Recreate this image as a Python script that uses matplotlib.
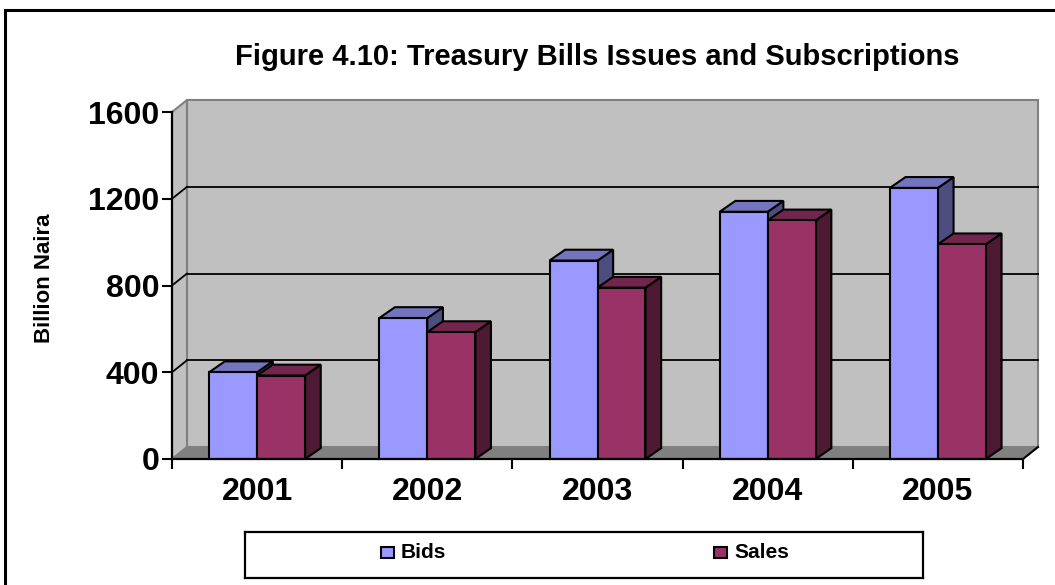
import matplotlib
matplotlib.use("Agg")
import matplotlib.pyplot as plt
from matplotlib.patches import Polygon, Rectangle

plt.rcParams['font.family'] = ['Liberation Sans', 'DejaVu Sans']

years = ['2001', '2002', '2003', '2004', '2005']
bids = [400, 650, 915, 1140, 1250]
sales = [385, 585, 790, 1100, 990]
yticks = [0, 400, 800, 1200, 1600]
series_names = ['Bids', 'Sales']

W, H = 1055, 585
fig = plt.figure(figsize=(W / 100, H / 100), dpi=100)
fig.patch.set_facecolor('white')

# outer frame
fig.add_artist(Rectangle((5 / W, -0.05), 1.2, 1 - 10 / H + 0.05, transform=fig.transFigure,
                         fill=False, edgecolor='black', lw=2.2))

ax = fig.add_axes([172 / W, 126 / H, 851 / W, 347 / H])
n = len(years)
ax.set_xlim(0, n)
ax.set_ylim(0, 1600)
ax.patch.set_visible(False)

# depth offsets (data units)
dxw, dyw = 0.088, 55
wall = '#C0C0C0'
floor = '#808080'
edge = '#808080'

# back wall
ax.add_patch(Polygon([(dxw, dyw), (n + dxw, dyw), (n + dxw, 1600 + dyw), (dxw, 1600 + dyw)],
                     closed=True, facecolor=wall, edgecolor=edge, lw=1.5, clip_on=False, zorder=1))
# side wall
ax.add_patch(Polygon([(0, 0), (dxw, dyw), (dxw, 1600 + dyw), (0, 1600)],
                     closed=True, facecolor=wall, edgecolor=edge, lw=1.5, clip_on=False, zorder=1))
# floor
ax.add_patch(Polygon([(0, 0), (n, 0), (n + dxw, dyw), (dxw, dyw)],
                     closed=True, facecolor=floor, edgecolor='none', lw=0, clip_on=False, zorder=1.5))
# gridlines
for v in yticks[1:-1]:
    ax.plot([dxw, n + dxw], [v + dyw, v + dyw], color='black', lw=1.3, clip_on=False, zorder=2)
    ax.plot([0, dxw], [v, v + dyw], color='black', lw=1.3, clip_on=False, zorder=2)
# right floor diagonal
ax.plot([n, n + dxw], [0, dyw], color='black', lw=1.5, clip_on=False, zorder=2)

# bars
bw = 0.282
dxb, dyb = 0.092, 50
cols = [('#9999FF', '#7575BF', '#4D4D80'), ('#993366', '#73264D', '#4D1933')]
z = 3
for i in range(n):
    c = i + 0.5
    for k, vals in enumerate([bids, sales]):
        x0 = c - bw + k * bw
        x1 = x0 + bw
        v = vals[i]
        front, top, side = cols[k]
        ax.add_patch(Polygon([(x1, 0), (x1 + dxb, dyb), (x1 + dxb, v + dyb), (x1, v)],
                             closed=True, facecolor=side, edgecolor='black', lw=1.5, clip_on=False, zorder=z))
        ax.add_patch(Polygon([(x0, v), (x1, v), (x1 + dxb, v + dyb), (x0 + dxb, v + dyb)],
                             closed=True, facecolor=top, edgecolor='black', lw=1.5, clip_on=False, zorder=z))
        ax.add_patch(Rectangle((x0, 0), bw, v, facecolor=front, edgecolor='black', lw=1.5,
                               clip_on=False, zorder=z))
        z += 1

for s in ['top', 'right']:
    ax.spines[s].set_visible(False)
for s in ['left', 'bottom']:
    ax.spines[s].set_color('black')
    ax.spines[s].set_linewidth(1.6)
    ax.spines[s].set_zorder(20)

ax.set_yticks(yticks)
ax.set_yticklabels([str(t) for t in yticks], fontsize=23, fontweight='bold')
ax.tick_params(axis='y', direction='out', length=7, width=1.5, pad=2)
ax.set_xticks(range(n + 1))
ax.set_xticklabels([''] * (n + 1))
ax.set_xticks([i + 0.5 for i in range(n)], minor=True)
ax.set_xticklabels(years, minor=True, fontsize=23, fontweight='bold')
ax.tick_params(axis='x', which='major', direction='out', length=7, width=1.5)
ax.tick_params(axis='x', which='minor', length=0, pad=13)

fig.text(597 / W, 1 - 57 / H, 'Figure 4.10: Treasury Bills Issues and Subscriptions',
         ha='center', va='center', fontsize=21, fontweight='bold')
fig.text(45 / W, 1 - 278 / H, 'Billion Naira', rotation=90, ha='center', va='center',
         fontsize=16, fontweight='bold')

# legend box
LX0, LX1, LY0, LY1 = 245, 923, 532, 578
lax = fig.add_axes([LX0 / W, (H - LY1) / H, (LX1 - LX0) / W, (LY1 - LY0) / H])
lax.set_xlim(0, LX1 - LX0)
lax.set_ylim(0, LY1 - LY0)
lax.set_xticks([])
lax.set_yticks([])
for s in lax.spines.values():
    s.set_linewidth(1.6)
    s.set_color('black')
marks = [(136, '#9999FF'), (469, '#993366')]
for (mx, mc), name in zip(marks, series_names):
    lax.add_patch(Rectangle((mx, 20), 13, 11, facecolor=mc, edgecolor='black', lw=1.5))
    lax.text(mx + 20, 25, name, ha='left', va='center', fontsize=15, fontweight='bold')

fig.savefig('out.png', dpi=100)
